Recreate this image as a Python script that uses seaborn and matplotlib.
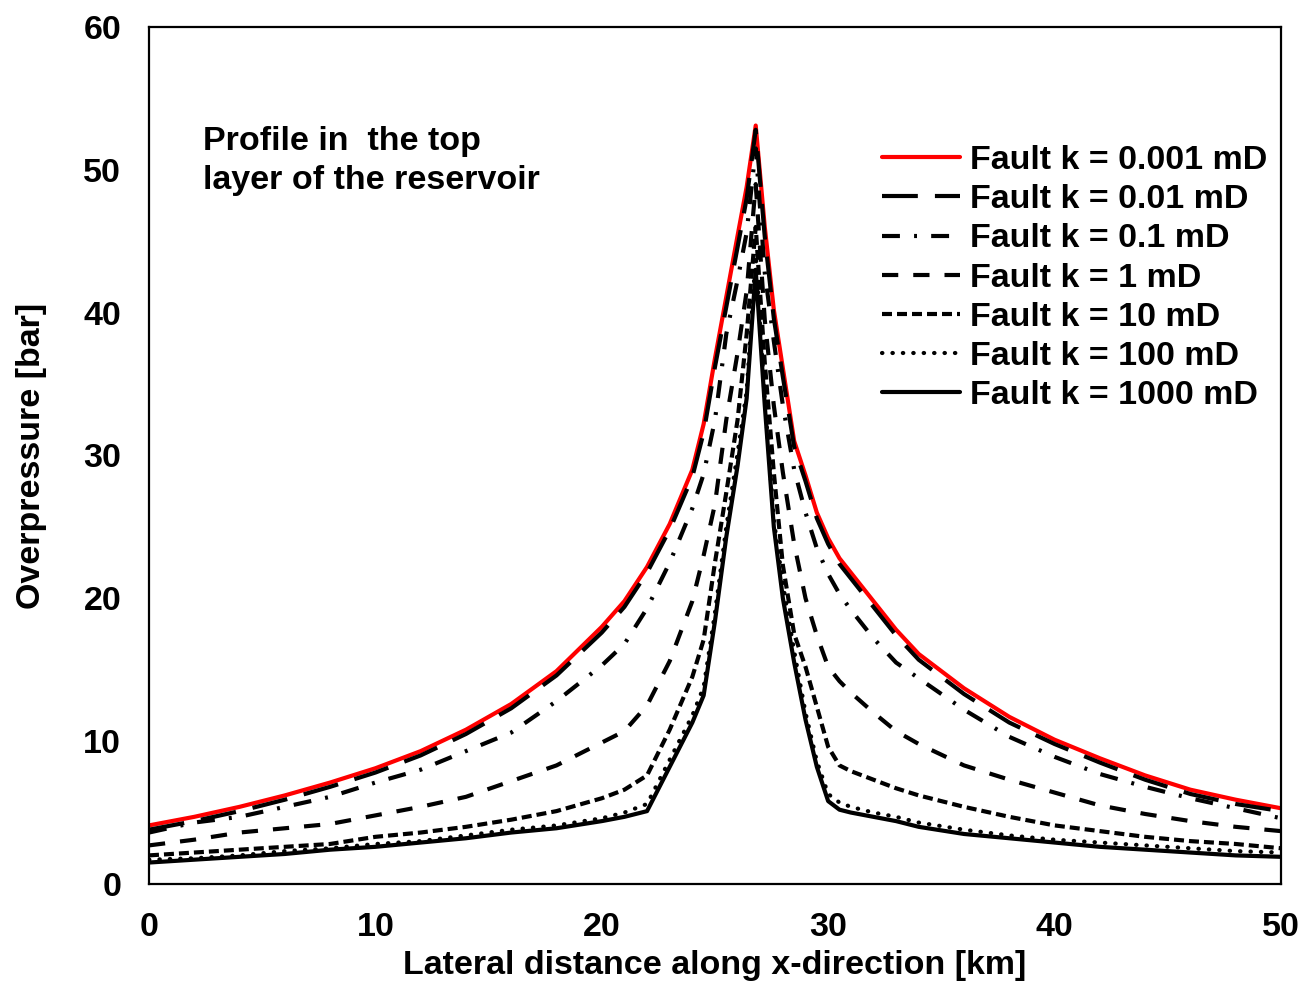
import numpy as np
import pandas as pd
import matplotlib
matplotlib.use("Agg")
import matplotlib.pyplot as plt
import seaborn as sns

# Lateral positions of the profile nodes [km]
x_km = [0, 2, 4, 6, 8, 10, 12, 14, 16, 18, 20, 21, 22, 23, 24, 24.5, 25, 25.5, 26, 26.4,
        26.8, 27.2, 27.6, 28, 28.5, 29, 29.5, 30, 30.5, 31, 32, 33, 34, 36, 38, 40, 42,
        44, 46, 48, 50]

# Overpressure [bar] in the top reservoir layer for each fault permeability
p_k0001 = [4.1, 4.7, 5.4, 6.2, 7.1, 8.1, 9.3, 10.8, 12.6, 14.9, 18.0, 19.8, 22.2, 25.2,
           29.0, 32.2, 36.8, 41.1, 45.4, 48.8, 53.1, 46.0, 40.2, 36.1, 31.0, 28.6, 26.0,
           24.2, 22.8, 21.8, 19.8, 17.8, 16.1, 13.7, 11.7, 10.1, 8.8, 7.6, 6.6, 5.9, 5.3]
p_k001 = [3.8, 4.4, 5.1, 5.9, 6.8, 7.8, 9.0, 10.5, 12.3, 14.6, 17.6, 19.4, 21.8, 24.8,
          28.5, 31.6, 36.2, 40.4, 44.6, 48.0, 52.8, 45.3, 39.6, 35.5, 30.6, 28.2, 25.6,
          23.8, 22.4, 21.4, 19.4, 17.4, 15.7, 13.3, 11.3, 9.8, 8.5, 7.3, 6.3, 5.6, 5.1]
p_k01 = [3.6, 4.3, 4.7, 5.4, 6.1, 7.1, 8.0, 9.3, 10.6, 12.8, 15.3, 16.8, 19.3, 22.5,
         26.3, 28.7, 32.5, 38.5, 42.3, 45.6, 51.5, 42.8, 38.0, 33.5, 29.0, 26.0, 23.5,
         21.7, 20.3, 19.2, 17.2, 15.5, 14.4, 12.2, 10.3, 8.9, 7.7, 6.8, 6.0, 5.3, 4.6]
p_k1 = [2.7, 3.1, 3.6, 3.9, 4.2, 4.8, 5.4, 6.1, 7.2, 8.3, 9.9, 10.7, 12.5, 15.6, 19.8,
        23.0, 26.6, 32.5, 37.2, 41.5, 49.0, 39.5, 33.5, 28.8, 23.8, 20.0, 17.4, 15.2,
        14.2, 13.4, 12.0, 10.7, 9.8, 8.3, 7.3, 6.4, 5.5, 4.9, 4.4, 4.0, 3.7]
p_k10 = [2.0, 2.2, 2.4, 2.6, 2.8, 3.3, 3.6, 4.0, 4.5, 5.1, 6.0, 6.6, 7.6, 10.8, 14.5,
         17.1, 22.5, 27.4, 32.5, 38.5, 46.0, 36.5, 28.8, 22.3, 17.5, 15.2, 12.4, 9.6,
         8.3, 7.9, 7.3, 6.7, 6.2, 5.4, 4.7, 4.1, 3.7, 3.3, 3.0, 2.8, 2.5]
p_k100 = [1.7, 1.8, 2.0, 2.3, 2.5, 2.8, 3.0, 3.4, 3.8, 4.1, 4.6, 5.0, 5.6, 8.7, 11.8,
          13.8, 19.0, 25.0, 30.2, 34.5, 44.0, 34.0, 25.5, 21.0, 16.3, 12.0, 8.6, 6.3,
          5.7, 5.4, 5.0, 4.7, 4.3, 3.8, 3.4, 3.1, 2.9, 2.7, 2.5, 2.3, 2.2]
p_k1000 = [1.5, 1.7, 1.9, 2.1, 2.4, 2.6, 2.9, 3.2, 3.6, 3.9, 4.4, 4.7, 5.1, 8.2, 11.3,
           13.2, 18.4, 24.3, 29.3, 34.0, 43.0, 33.5, 25.0, 20.0, 15.5, 11.5, 8.2, 5.8,
           5.2, 5.0, 4.7, 4.4, 4.0, 3.5, 3.2, 2.9, 2.6, 2.4, 2.2, 2.0, 1.9]

series_labels = ["Fault k = 0.001 mD", "Fault k = 0.01 mD", "Fault k = 0.1 mD",
                 "Fault k = 1 mD", "Fault k = 10 mD", "Fault k = 100 mD",
                 "Fault k = 1000 mD"]
series_values = [p_k0001, p_k001, p_k01, p_k1, p_k10, p_k100, p_k1000]

# Line appearance per series (colour, dash pattern in linewidth units)
series_colors = ["#ff0000", "black", "black", "black", "black", "black", "black"]
series_dashes = [None, (8.6, 4.1), (4.3, 3.4, 0.7, 3.4), (3.9, 3.6), (2.4, 1.2),
                 (0.1, 2.4), None]

FS = 24.5

sns.set_theme(style="white")
plt.rcParams["font.family"] = ["Liberation Sans", "DejaVu Sans"]
plt.rcParams["font.weight"] = "bold"
plt.rcParams["text.color"] = "black"
plt.rcParams["axes.labelcolor"] = "black"
plt.rcParams["xtick.color"] = "black"
plt.rcParams["ytick.color"] = "black"

fig = plt.figure(figsize=(13.15, 9.88), dpi=100)
ax = fig.add_axes([0.1133, 0.1053, 0.8608, 0.8674])

for label, vals, col, dash in zip(series_labels, series_values, series_colors, series_dashes):
    df = pd.DataFrame({"x": x_km, "p": vals})
    kws = dict(color=col, lw=3.0, label=label)
    if dash is not None:
        kws["linestyle"] = (0, dash)
    if dash is not None and dash[0] < 0.5:
        kws["dash_capstyle"] = "round"
    sns.lineplot(data=df, x="x", y="p", ax=ax, **kws)

ax.set_xlim(0, 50)
ax.set_ylim(0, 60)
ax.set_xticks(np.arange(0, 51, 10))
ax.set_yticks(np.arange(0, 61, 10))
ax.tick_params(axis="both", which="major", direction="out", length=6, width=1.6,
               color="black", labelcolor="black", labelsize=FS)
ax.tick_params(axis="x", pad=14)
ax.tick_params(axis="y", pad=14)
for lab in ax.get_xticklabels() + ax.get_yticklabels():
    lab.set_fontweight("bold")
for sp in ax.spines.values():
    sp.set_color("black")
    sp.set_linewidth(1.6)

ax.set_xlabel("Lateral distance along x-direction [km]", fontsize=FS, fontweight="bold",
              labelpad=5)
ax.set_ylabel("Overpressure [bar]", fontsize=FS, fontweight="bold", labelpad=26)

ax.text(2.4, 53.1, "Profile in  the top\nlayer of the reservoir", fontsize=FS,
        fontweight="bold", va="top", ha="left", linespacing=1.35)

leg = ax.legend(loc="upper right", bbox_to_anchor=(1.0, 0.878), frameon=False,
                fontsize=FS, handlelength=2.3, handletextpad=0.3, labelspacing=0.24,
                borderaxespad=0.0)
for t in leg.get_texts():
    t.set_fontweight("bold")

fig.savefig("out.png", dpi=100)
